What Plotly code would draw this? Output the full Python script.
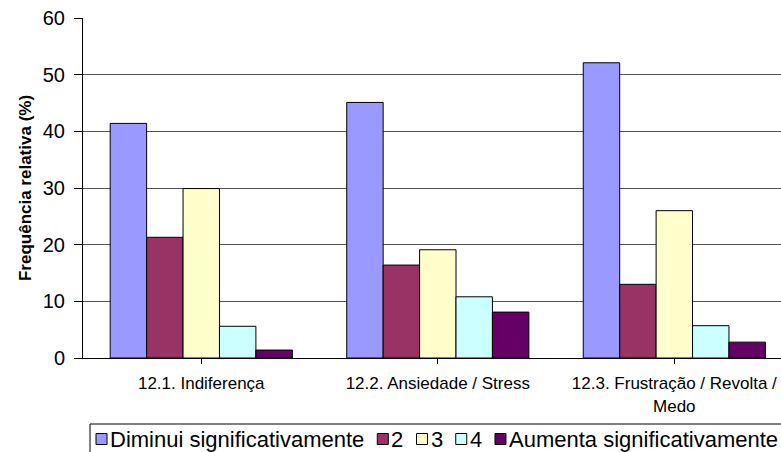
import plotly.graph_objects as go

categories = ["12.1. Indiferença", "12.2. Ansiedade / Stress", "12.3. Frustração / Revolta /<br>Medo"]
series_names = ["Diminui significativamente", "2", "3", "4", "Aumenta significativamente"]
series_values = [
    [41.4, 45.1, 52.1],
    [21.3, 16.4, 13.0],
    [29.9, 19.1, 26.0],
    [5.6, 10.8, 5.7],
    [1.4, 8.1, 2.8],
]
series_colors = ["#9999FF", "#993366", "#FFFFCC", "#CCFFFF", "#660066"]
y_ticks = [0, 10, 20, 30, 40, 50, 60]

FONT = "Arial, Liberation Sans, sans-serif"
W, H = 781, 452
ML, MR, MT, MB = 83, 0, 18, 94
PW, PH = W - ML - MR, H - MT - MB

fig = go.Figure()
for name, vals, col in zip(series_names, series_values, series_colors):
    fig.add_trace(go.Bar(
        x=list(range(len(categories))), y=vals, name=name,
        marker=dict(color=col, line=dict(color="#000000", width=1)),
        showlegend=False,
    ))

# --- legend drawn as a framed strip below the plot (Excel style: small square + label) ---
ARIAL_W = {'D': .722, 'i': .222, 'm': .833, 'n': .556, 'u': .556, ' ': .278, 's': .5,
           'g': .556, 'f': .278, 'c': .5, 'a': .556, 't': .278, 'v': .5, 'e': .556,
           'A': .667, '2': .556, '3': .556, '4': .556}
LEG_FS = 22
SQ = 11
def px_x(p):
    return (p - ML) / PW
def px_y(p):
    return (MT + PH - p) / PH

shapes = [dict(type="rect", xref="paper", yref="paper",
               x0=px_x(90), x1=px_x(W + 10), y0=px_y(424), y1=px_y(H + 5),
               line=dict(color="#000000", width=1), fillcolor="white", layer="above")]
annotations = []
cx = 96
cy = 439
for name, col in zip(series_names, series_colors):
    shapes.append(dict(type="rect", xref="paper", yref="paper",
                       x0=px_x(cx), x1=px_x(cx + SQ), y0=px_y(cy - SQ / 2), y1=px_y(cy + SQ / 2),
                       line=dict(color="#000000", width=1), fillcolor=col, layer="above"))
    annotations.append(dict(text=name, xref="paper", yref="paper", x=px_x(cx + 13), y=px_y(cy),
                            xanchor="left", yanchor="middle", showarrow=False, borderpad=0,
                            font=dict(size=LEG_FS, family=FONT, color="#000000")))
    tw = sum(ARIAL_W.get(ch, .556) for ch in name) * LEG_FS
    cx = cx + 13 + tw + 14

fig.update_layout(
    width=W, height=H,
    margin=dict(l=ML, r=MR, t=MT, b=MB),
    paper_bgcolor="white", plot_bgcolor="white",
    barmode="group", bargap=0.23, bargroupgap=0,
    font=dict(family=FONT, color="#000000"),
    showlegend=False,
    shapes=shapes,
    annotations=annotations,
    xaxis=dict(
        range=[-0.5, 2.451],
        tickmode="array", tickvals=list(range(len(categories))), ticktext=categories,
        tickson="boundaries", ticks="outside", ticklen=5, tickcolor="#000000",
        tickfont=dict(size=17, family=FONT), ticklabelstandoff=5,
        showline=True, linecolor="#000000", linewidth=1,
        showgrid=False, zeroline=False, fixedrange=True,
    ),
    yaxis=dict(
        range=[0, 60], tickmode="array", tickvals=y_ticks,
        ticks="outside", ticklen=8, tickcolor="#000000",
        tickfont=dict(size=20, family=FONT), ticklabelstandoff=5,
        showline=True, linecolor="#000000", linewidth=1,
        showgrid=True, gridcolor="#555555", gridwidth=1,
        zeroline=False,
        title=dict(text="<b>Frequência relativa (%)</b>", font=dict(size=17, family=FONT), standoff=6),
    ),
)

fig.write_html("out.html")
